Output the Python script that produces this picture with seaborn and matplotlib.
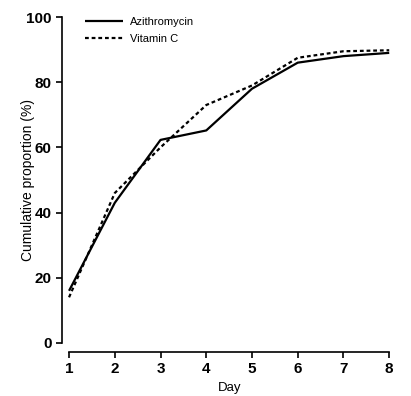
import pandas as pd
import seaborn as sns
import matplotlib.pyplot as plt

# datos
dias = [1, 2, 3, 4, 5, 6, 7, 8]
azitromicina = [16, 43, 62.3, 65.2, 78, 86, 88, 89]
vitamina_c = [14, 46, 60, 73, 79, 87.5, 89.5, 89.8]
marcas_y = [0, 20, 40, 60, 80, 100]

data = pd.DataFrame({
    "Day": dias * 2,
    "Valor": azitromicina + vitamina_c,
    "Grupo": ["Azithromycin"] * len(dias) + ["Vitamin C"] * len(dias),
})

sns.set_style("ticks")
plt.rcParams["font.family"] = ["Liberation Sans", "DejaVu Sans"]
plt.rcParams["text.color"] = "black"
plt.rcParams["axes.labelcolor"] = "black"

fig = plt.figure(figsize=(4.11, 3.96), dpi=100)
ax = fig.add_axes([0.168, 0.134, 0.779, 0.823])

sns.lineplot(data=data, x="Day", y="Valor", hue="Grupo", style="Grupo",
             palette=["black", "black"], dashes=[(1, 0), (1.7, 1.3)],
             linewidth=1.6, ax=ax)

ax.set_xlim(1, 8)
ax.set_ylim(0, 100)
ax.set_xticks(dias)
ax.set_yticks(marcas_y)
ax.set_xlabel("Day", fontsize=9.5)
ax.set_ylabel("Cumulative proportion (%)", fontsize=10, labelpad=-6.5)
ax.tick_params(width=1.2, length=4, colors="black", labelsize=11)

sns.despine(ax=ax)
ax.spines["left"].set_position(("outward", 5))
ax.spines["bottom"].set_position(("outward", 6.5))
ax.spines["left"].set_bounds(0, 100)
ax.spines["bottom"].set_bounds(1, 8)
for s in ["left", "bottom"]:
    ax.spines[s].set_linewidth(1.2)
    ax.spines[s].set_color("black")
for ln in ax.lines:
    ln.set_clip_on(False)

leg = ax.legend(loc="upper left", bbox_to_anchor=(0.02, 1.03), frameon=False,
                fontsize=8, handlelength=3.4, handletextpad=0.6, labelspacing=0.6)

fig.canvas.draw()
for lab in ax.get_xticklabels() + ax.get_yticklabels():
    lab.set_fontweight("bold")

plt.savefig("out.png", dpi=100)
plt.close()
